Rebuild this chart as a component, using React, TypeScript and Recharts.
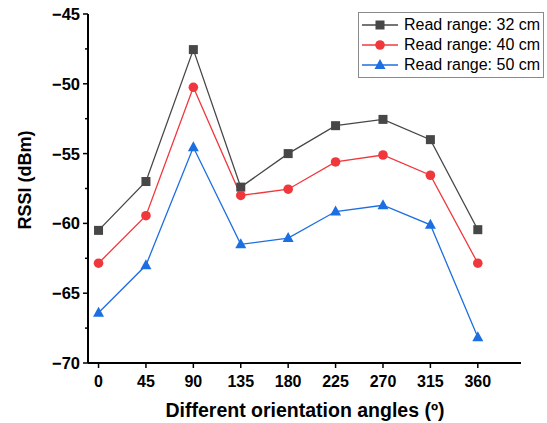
import React from 'react'
import { LineChart, Line, XAxis, YAxis, Legend, Label } from 'recharts'

// orientation angles (degrees) and RSSI readings (dBm) per read range
const angles = [0, 45, 90, 135, 180, 225, 270, 315, 360]
const range32 = [-60.5, -57.0, -47.55, -57.4, -55.0, -53.0, -52.55, -54.0, -60.45]
const range40 = [-62.85, -59.45, -50.25, -58.0, -57.55, -55.6, -55.1, -56.55, -62.85]
const range50 = [-66.4, -63.0, -54.55, -61.5, -61.05, -59.15, -58.7, -60.1, -68.15]

const xTicks = [0, 45, 90, 135, 180, 225, 270, 315, 360]
const yTicks = [-70, -67.5, -65, -62.5, -60, -57.5, -55, -52.5, -50, -47.5, -45]

const FONT = '"Liberation Sans", Arial, Helvetica, sans-serif'

const series = [
  { key: 'r32', name: 'Read range: 32 cm', color: '#474747', marker: 'square' },
  { key: 'r40', name: 'Read range: 40 cm', color: '#f0383c', marker: 'circle' },
  { key: 'r50', name: 'Read range: 50 cm', color: '#1c6fe0', marker: 'triangle' },
]

const data = angles.map((a, i) => ({ angle: a, r32: range32[i], r40: range40[i], r50: range50[i] }))

const Marker = ({ cx, cy, type, color }: { cx: number; cy: number; type: string; color: string }) => {
  if (type === 'square') return <rect x={cx - 4.5} y={cy - 4.5} width={9} height={9} fill={color} />
  if (type === 'circle') return <circle cx={cx} cy={cy} r={4.8} fill={color} />
  return <polygon points={`${cx},${cy - 6} ${cx - 5.5},${cy + 4} ${cx + 5.5},${cy + 4}`} fill={color} />
}

const fmt = (v: number) => (v < 0 ? '\u2212' + Math.abs(v) : String(v))

const YTick = (props: any) => {
  const { x, y, payload } = props
  const v = payload.value as number
  const major = v % 5 === 0
  return (
    <g>
      <line x1={x - (major ? 5 : 3)} x2={x} y1={y} y2={y} stroke="#000" strokeWidth={1.5} />
      {major && (
        <text x={x - 8} y={y} dy="0.36em" textAnchor="end" fontSize={16.5} fontWeight="bold" fontFamily={FONT} fill="#000">
          {fmt(v)}
        </text>
      )}
    </g>
  )
}

const XTick = (props: any) => {
  const { x, y, payload } = props
  return (
    <g>
      <line x1={x} x2={x} y1={y} y2={y + 5} stroke="#000" strokeWidth={1.5} />
      <text x={x} y={y + 18} dy="0.36em" textAnchor="middle" fontSize={16} fontWeight="bold" fontFamily={FONT} fill="#000">
        {payload.value}
      </text>
    </g>
  )
}

const LegendBox = () => (
  <div style={{ border: '1px solid #8a8a8a', background: '#fff', padding: '2px 3px 2px 3px', fontFamily: FONT, fontSize: 16, lineHeight: '20px', color: '#000' }}>
    {series.map(s => (
      <div key={s.key} style={{ display: 'flex', alignItems: 'center', whiteSpace: 'nowrap' }}>
        <svg width={38} height={20} style={{ marginRight: 4 }}>
          <line x1={0} x2={36} y1={10} y2={10} stroke={s.color} strokeWidth={1.3} />
          <Marker cx={18} cy={10} type={s.marker} color={s.color} />
        </svg>
        <span>{s.name}</span>
      </div>
    ))}
  </div>
)

export default function App() {
  return (
    <div style={{ position: 'absolute', left: 0, top: 0, width: 547, height: 423, background: '#fff' }}>
      <LineChart width={547} height={423} data={data} margin={{ top: 14, right: 26, left: 0, bottom: 0 }}>
        <XAxis
          dataKey="angle"
          type="number"
          domain={[-10, 401]}
          ticks={xTicks}
          allowDataOverflow
          height={60}
          tickSize={0}
          tickMargin={0}
          tick={<XTick />}
          tickLine={false}
          axisLine={{ stroke: '#000', strokeWidth: 2 }}
        >
          <Label
            content={() => (
              <text x={305} y={417} textAnchor="middle" fontSize={19.5} fontWeight="bold" fontFamily={FONT} fill="#000">
                Different orientation angles (º)
              </text>
            )}
          />
        </XAxis>
        <YAxis
          type="number"
          domain={[-70, -45]}
          ticks={yTicks}
          width={88}
          tickSize={0}
          tickMargin={0}
          tick={<YTick />}
          tickLine={false}
          interval={0}
          axisLine={{ stroke: '#000', strokeWidth: 2 }}
        >
          <Label
            content={() => (
              <text x={25} y={180} transform="rotate(-90 25 180)" dy="0.36em" textAnchor="middle" fontSize={18} fontWeight="bold" fontFamily={FONT} fill="#000">
                RSSI (dBm)
              </text>
            )}
          />
        </YAxis>
        <Legend
          layout="horizontal"
          verticalAlign="middle"
          content={<LegendBox />}
          wrapperStyle={{ top: 12, left: 358, width: 'auto', height: 'auto' }}
        />
        {series.map(s => (
          <Line
            key={s.key}
            dataKey={s.key}
            name={s.name}
            type="linear"
            stroke={s.color}
            strokeWidth={1.3}
            isAnimationActive={false}
            dot={(p: any) => <Marker key={`${s.key}-${p.index}`} cx={p.cx} cy={p.cy} type={s.marker} color={s.color} />}
            activeDot={false}
          />
        ))}
      </LineChart>
    </div>
  )
}
